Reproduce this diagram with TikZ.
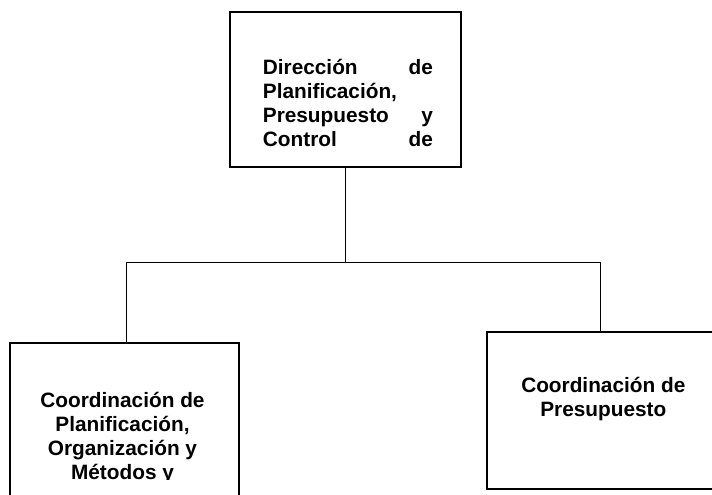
\documentclass[tikz,border=0pt]{standalone}
\usepackage{fontspec}
\setmainfont{Liberation Sans}
\begin{document}
\begin{tikzpicture}[x=1pt,y=-1pt,
  box/.style={draw=black,line width=2pt,fill=white,rectangle,inner sep=0pt},
  link/.style={draw=black,line width=1pt},
  txt/.style={inner sep=0pt,font=\fontsize{20.8}{24}\selectfont\bfseries}]
\useasboundingbox[fill=white] (0,0) rectangle (712,495);
% boxes
\node[box,minimum width=230.5pt,minimum height=155pt] (top) at (345.25,89.5) {};
\node[box,minimum width=229pt,minimum height=200pt] (left) at (124.5,442.5) {};
\node[box,minimum width=234pt,minimum height=156.5pt] (right) at (603.5,410.25) {};
% connectors
\coordinate (jl) at (126.7,262);
\coordinate (jr) at (600.7,262);
\draw[link] (top.south) -- (top.south |- jl);
\draw[link] (jl) -- (jr);
\draw[link] (jl) -- (jl |- left.north);
\draw[link] (jr) -- (jr |- right.north);
% top text
\node[txt,anchor=base west] (t1) at (262.7,74.3) {\hbox to 170pt{Dirección\hfill de}};
\node[txt,anchor=base west] (t2) at (262.7,98.5) {\hbox to 170pt{Planificación,\hfill}};
\node[txt,anchor=base west] (t3) at (262.7,122.7) {\hbox to 170pt{Presupuesto\hfill y}};
\node[txt,anchor=base west] (t4) at (262.7,146.9) {\hbox to 170pt{Control\hfill de}};
% left text
\begin{scope}
\clip (10,343) rectangle (240,479);
\node[txt,anchor=base] (l1) at (122.5,407.7) {Coordinación de};
\node[txt,anchor=base] (l2) at (122.5,431.7) {Planificación,};
\node[txt,anchor=base] (l3) at (122.5,455.7) {Organización y};
\node[txt,anchor=base] (l4) at (122.5,479.7) {Métodos y};
\end{scope}
% right text
\node[txt,anchor=base] (r1) at (603.3,392.7) {Coordinación de};
\node[txt,anchor=base] (r2) at (603.3,416.7) {Presupuesto};
\end{tikzpicture}
\end{document}
